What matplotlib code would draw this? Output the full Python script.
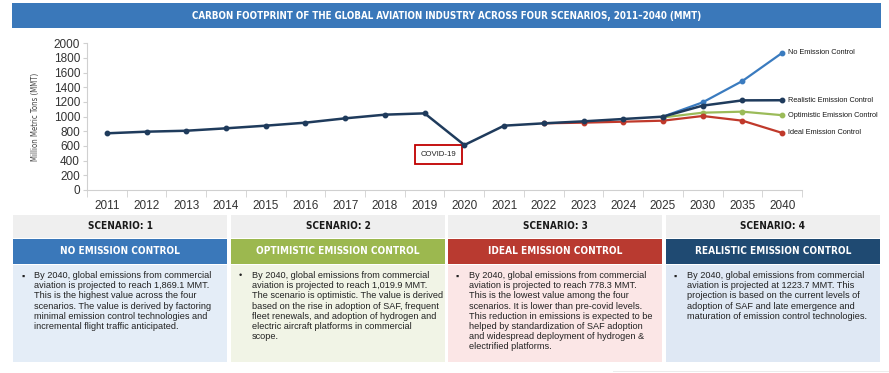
import matplotlib
matplotlib.use("Agg")
import matplotlib.pyplot as plt
from matplotlib.patches import Rectangle

# --- data -------------------------------------------------------------------

years = ["2011", "2012", "2013", "2014", "2015", "2016", "2017", "2018", "2019",
         "2020", "2021", "2022", "2023", "2024", "2025", "2030", "2035", "2040"]

# realistic scenario carries the historical line too
realistic = [773, 795, 808, 841, 877, 918, 977, 1027, 1045,
             613, 877, 909, 936, 968, 1000, 1150, 1222, 1223.7]
no_control_years = ["2025", "2030", "2035", "2040"]
no_control = [1000, 1195, 1486, 1869.1]
optimistic_years = ["2025", "2030", "2035", "2040"]
optimistic = [990, 1054, 1068, 1019.9]
ideal_years = ["2022", "2023", "2024", "2025", "2030", "2035", "2040"]
ideal = [909, 918, 931, 945, 1009, 945, 778.3]

title = "CARBON FOOTPRINT OF THE GLOBAL AVIATION INDUSTRY ACROSS FOUR SCENARIOS, 2011\u20132040 (MMT)"
scenario_tags = ["SCENARIO: 1", "SCENARIO: 2", "SCENARIO: 3", "SCENARIO: 4"]
scenario_names = ["NO EMISSION CONTROL", "OPTIMISTIC EMISSION CONTROL",
                  "IDEAL EMISSION CONTROL", "REALISTIC EMISSION CONTROL"]
scenario_text = [
    "By 2040, global emissions from commercial\n"
    "aviation is projected to reach 1,869.1 MMT.\n"
    "This is the highest value across the four\n"
    "scenarios. The value is derived by factoring\n"
    "minimal emission control technologies and\n"
    "incremental flight traffic anticipated.",
    "By 2040, global emissions from commercial\n"
    "aviation is projected to reach 1,019.9 MMT.\n"
    "The scenario is optimistic. The value is derived\n"
    "based on the rise in adoption of SAF, frequent\n"
    "fleet renewals, and adoption of hydrogen and\n"
    "electric aircraft platforms in commercial\n"
    "scope.",
    "By 2040, global emissions from commercial\n"
    "aviation is projected to reach 778.3 MMT.\n"
    "This is the lowest value among the four\n"
    "scenarios. It is lower than pre-covid levels.\n"
    "This reduction in emissions is expected to be\n"
    "helped by standardization of SAF adoption\n"
    "and widespread deployment of hydrogen &\n"
    "electrified platforms.",
    "By 2040, global emissions from commercial\n"
    "aviation is projected at 1223.7 MMT. This\n"
    "projection is based on the current levels of\n"
    "adoption of SAF and late emergence and\n"
    "maturation of emission control technologies.",
]

# --- style ------------------------------------------------------------------

NAVY = "#1f3b5c"
BLUE = "#3a7bbf"
GREEN = "#9bbb59"
RED = "#c0392b"

head_colors = ["#3a78ba", "#9cb84f", "#b93a30", "#1f4a72"]
body_colors = ["#e4edf7", "#f1f4e6", "#fbe6e6", "#dfe8f4"]
bullets = ["\u25aa", "\u2022", "\u25aa", "\u25aa"]

W, H = 889, 373
plt.rcParams["font.family"] = ["Liberation Sans", "DejaVu Sans"]
# condensed bold headings
HEAD = dict(family="DejaVu Sans", fontstretch="condensed", fontweight="bold")

fig = plt.figure(figsize=(W / 100, H / 100), dpi=100)


def box(x, y, w, h, color, **kw):
    # pixel rectangle, origin top-left
    fig.patches.append(Rectangle((x / W, 1 - (y + h) / H), w / W, h / H,
                                 transform=fig.transFigure, facecolor=color,
                                 edgecolor="none", **kw))


def ftext(x, y, s, **kw):
    fig.text(x / W, 1 - y / H, s, **kw)


# title bar
box(12, 3, 869, 25, "#3a78ba")
ftext(447, 16, title, color="white", fontsize=7.0, ha="center", va="center",
      **HEAD)

# --- chart ------------------------------------------------------------------

ax = fig.add_axes([87 / W, 1 - 190 / H, (802 - 87) / W, (190 - 43.3) / H])
pos = {y: i for i, y in enumerate(years)}

ax.plot([pos[y] for y in no_control_years], no_control, color=BLUE, lw=1.6,
        marker="o", ms=3.2, zorder=3)
ax.plot([pos[y] for y in optimistic_years], optimistic, color=GREEN, lw=1.6,
        marker="o", ms=3.2, zorder=3)
ax.plot([pos[y] for y in ideal_years], ideal, color=RED, lw=1.6,
        marker="o", ms=3.2, zorder=3)
ax.plot(range(len(years)), realistic, color=NAVY, lw=1.8, marker="o", ms=3.2,
        zorder=4)

labels = [("No Emission Control", no_control[-1]),
          ("Realistic Emission Control", realistic[-1]),
          ("Optimistic Emission Control", optimistic[-1]),
          ("Ideal Emission Control", ideal[-1])]
for name, val in labels:
    ax.annotate(name, (len(years) - 1, val), xytext=(4, 0),
                textcoords="offset points", fontsize=5.3, color="#1a1a1a",
                va="center", ha="left", annotation_clip=False)

ax.text(pos["2020"] - 0.65, 485, "COVID-19", fontsize=5.6, ha="center",
        va="center", color="#222222",
        bbox=dict(boxstyle="square,pad=0.75", fc="white", ec="#c00000", lw=1.3))

ax.set_xlim(-0.5, len(years) - 0.5)
ax.set_ylim(0, 2000)
ax.set_yticks(range(0, 2001, 200))
ax.set_xticks(range(len(years)))
ax.set_xticklabels(years)
ax.set_xticks([i - 0.5 for i in range(len(years) + 1)], minor=True)
ax.tick_params(axis="x", which="major", length=0, labelsize=8.5,
               labelcolor="#333333", pad=7)
ax.tick_params(axis="x", which="minor", length=5, color="#d0d0d0")
ax.tick_params(axis="y", length=3, color="#d0d0d0", labelsize=8.5,
               labelcolor="#333333", pad=2)
for side in ("top", "right"):
    ax.spines[side].set_visible(False)
for side in ("left", "bottom"):
    ax.spines[side].set_color("#d0d0d0")
    ax.spines[side].set_linewidth(0.8)
ax.set_ylabel("Million Metric Tons (MMT)", fontsize=5.6, color="#444444",
              family="DejaVu Sans", fontstretch="condensed", labelpad=10)

# --- scenario panels --------------------------------------------------------

panel_x = [13, 231, 448, 666]
pw = 214
for i in range(4):
    x = panel_x[i]
    box(x, 215, pw, 23, "#efefef")
    ftext(x + pw / 2, 226.5, scenario_tags[i], fontsize=7.2, color="#1a1a1a",
          ha="center", va="center", **HEAD)
    box(x, 239, pw, 25, head_colors[i])
    ftext(x + pw / 2, 251.5, scenario_names[i], fontsize=7.2, color="white",
          ha="center", va="center", **HEAD)
    box(x, 264.5, pw, 97, body_colors[i])
    ftext(x + 8, 276, bullets[i], fontsize=6.5, color="#222222", ha="left",
          va="center")
    ftext(x + 21, 271, scenario_text[i], fontsize=6.6, color="#222222",
          ha="left", va="top", linespacing=1.17)

# faint rule along the bottom edge
box(613, 370.5, 276, 1, "#ececec")

fig.savefig("out.png", dpi=100)
